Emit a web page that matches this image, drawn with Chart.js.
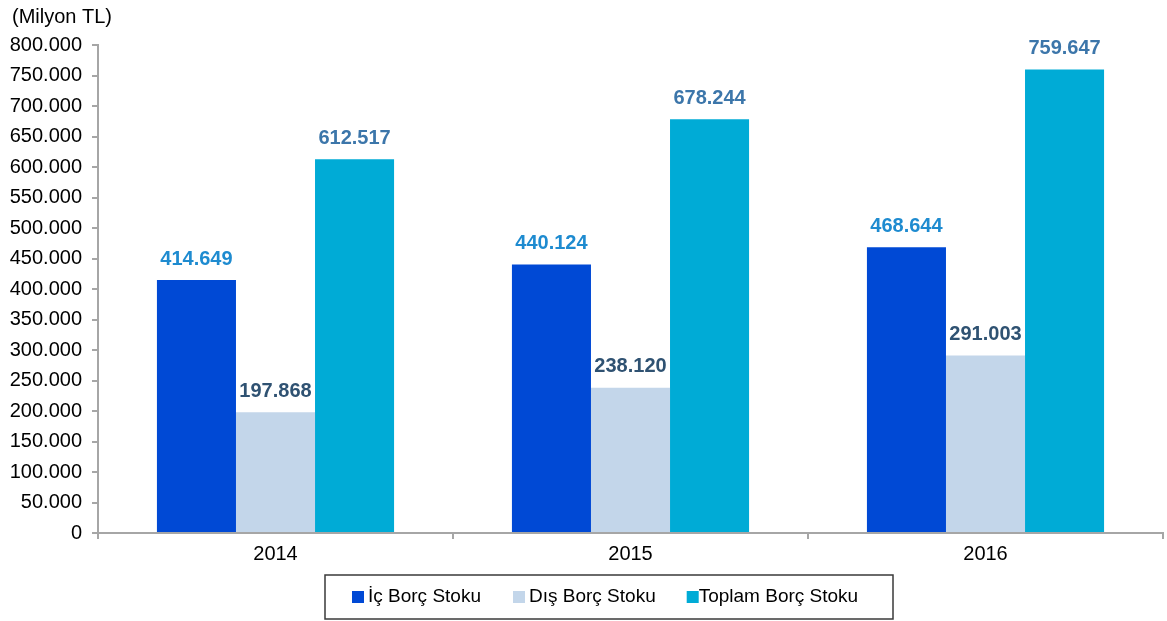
<!DOCTYPE html>
<html>
<head>
<meta charset="utf-8">
<script src="https://cdn.jsdelivr.net/npm/chart.js@4.4.1/dist/chart.umd.min.js"></script>
<style>
  html, body { margin: 0; padding: 0; background: #ffffff; }
  #wrap { width: 1167px; height: 621px; position: relative; }
</style>
</head>
<body>
<div id="wrap"><canvas id="c" width="1167" height="621"></canvas></div>
<script>
// Borç stoku verileri (Milyon TL)
const years = ['2014', '2015', '2016'];
const seriesNames = ['İç Borç Stoku', 'Dış Borç Stoku', 'Toplam Borç Stoku'];
const icBorc = [414649, 440124, 468644];
const disBorc = [197868, 238120, 291003];
const toplamBorc = [612517, 678244, 759647];
const yMin = 0;
const yMax = 800000;
const yStep = 50000;
const unitLabel = '(Milyon TL)';

const FONT = '"Liberation Sans", Arial, Helvetica, sans-serif';

// Turkish thousands separator: 612517 -> "612.517"
function fmtTR(v) {
  return String(Math.round(v)).replace(/\B(?=(\d{3})+(?!\d))/g, '.');
}

const barColors = ['#0049d5', '#c3d6ea', '#00abd6'];
const labelColors = ['#1e8bd0', '#2f5272', '#3c76aa'];

// Value labels above each bar
const valueLabels = {
  id: 'valueLabels',
  afterDatasetsDraw(chart) {
    const ctx = chart.ctx;
    ctx.save();
    ctx.font = 'bold 20px ' + FONT;
    ctx.textAlign = 'center';
    ctx.textBaseline = 'middle';
    chart.data.datasets.forEach((ds, i) => {
      const meta = chart.getDatasetMeta(i);
      ctx.fillStyle = labelColors[i];
      meta.data.forEach((bar, j) => {
        ctx.fillText(fmtTR(ds.data[j]), bar.x, bar.y - 21);
      });
    });
    ctx.restore();
  }
};

// Unit caption above the value axis
const unitCaption = {
  id: 'unitCaption',
  afterDraw(chart) {
    const ctx = chart.ctx;
    ctx.save();
    ctx.font = '20px ' + FONT;
    ctx.fillStyle = '#000000';
    ctx.textAlign = 'left';
    ctx.textBaseline = 'middle';
    ctx.fillText(unitLabel, 12, 17);
    ctx.restore();
  }
};

// Framed legend under the x axis
const boxedLegend = {
  id: 'boxedLegend',
  afterDraw(chart) {
    const ctx = chart.ctx;
    const frame = { x: 325, y: 575, w: 568, h: 44 };
    ctx.save();
    ctx.strokeStyle = '#3a3a3a';
    ctx.lineWidth = 1.5;
    ctx.strokeRect(frame.x, frame.y, frame.w, frame.h);
    ctx.font = '19px ' + FONT;
    ctx.textBaseline = 'middle';
    ctx.textAlign = 'left';
    const cy = frame.y + frame.h / 2;
    const gaps = [32, 31];
    let x = 352;
    chart.data.datasets.forEach((ds, i) => {
      ctx.fillStyle = ds.backgroundColor;
      ctx.fillRect(x, cy - 6, 12, 12);
      ctx.fillStyle = '#000000';
      const tx = i === 2 ? x + 12 : x + 16;
      ctx.fillText(ds.label, tx, cy);
      x = tx + ctx.measureText(ds.label).width + (gaps[i] || 0);
    });
    ctx.restore();
  }
};

new Chart(document.getElementById('c'), {
  type: 'bar',
  data: {
    labels: years,
    datasets: [
      { label: seriesNames[0], data: icBorc, backgroundColor: barColors[0] },
      { label: seriesNames[1], data: disBorc, backgroundColor: barColors[1] },
      { label: seriesNames[2], data: toplamBorc, backgroundColor: barColors[2] }
    ]
  },
  options: {
    responsive: false,
    animation: false,
    devicePixelRatio: 1,
    layout: { padding: { left: 0, right: 4, top: 45, bottom: 0 } },
    datasets: {
      bar: { categoryPercentage: 0.668, barPercentage: 1.0, borderWidth: 0 }
    },
    plugins: {
      legend: { display: false },
      tooltip: { enabled: false },
      title: { display: false }
    },
    scales: {
      x: {
        grid: {
          offset: true,
          drawOnChartArea: false,
          drawTicks: true,
          tickLength: 6,
          color: '#a6a6a6',
          lineWidth: 2
        },
        border: { color: '#a6a6a6', width: 2 },
        ticks: {
          color: '#000000',
          padding: 3,
          font: { family: FONT, size: 20 }
        },
        afterFit(scale) { scale.height = 88; }
      },
      y: {
        min: yMin,
        max: yMax,
        grid: {
          drawOnChartArea: false,
          drawTicks: true,
          tickLength: 6,
          color: '#a6a6a6',
          lineWidth: 2
        },
        border: { color: '#a6a6a6', width: 2 },
        ticks: {
          stepSize: yStep,
          color: '#000000',
          padding: 10,
          font: { family: FONT, size: 20 },
          callback: (v) => fmtTR(v)
        },
        afterFit(scale) { scale.width = 98; }
      }
    }
  },
  plugins: [valueLabels, unitCaption, boxedLegend]
});
</script>
</body>
</html>
